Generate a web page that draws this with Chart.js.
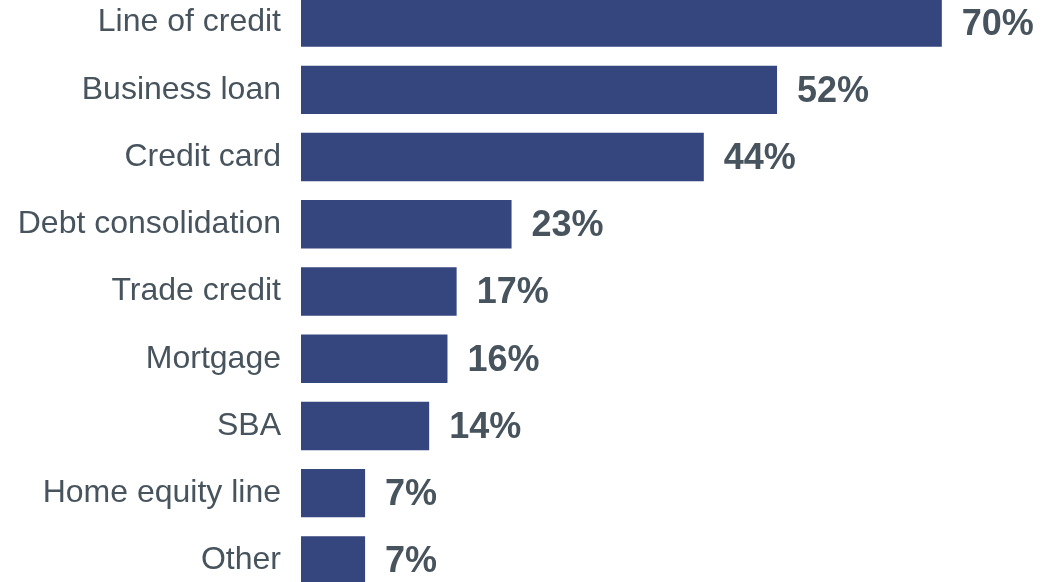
<!DOCTYPE html>
<html>
<head>
<meta charset="utf-8">
<script src="https://cdn.jsdelivr.net/npm/chart.js@4/dist/chart.umd.min.js"></script>
<style>
  html, body { margin: 0; padding: 0; background: #ffffff; overflow: hidden; }
  #wrap { position: relative; width: 1059px; height: 582px; overflow: hidden; }
  #chart { position: absolute; left: 0; top: -11px; }
</style>
</head>
<body>
<div id="wrap"><canvas id="chart" width="1059" height="605"></canvas></div>
<script>
// Financing products used (share of respondents, %)
const categories = [
  "Line of credit", "Business loan", "Credit card", "Debt consolidation",
  "Trade credit", "Mortgage", "SBA", "Home equity line", "Other"
];
const shares = [70, 52, 44, 23, 17, 16, 14, 7, 7];
const valueLabels = shares.map(v => v + "%");

const BAR_COLOR = "#35457e";
const TEXT_COLOR = "#47545d";
const FONT = "'Liberation Sans', Arial, sans-serif";

// Bold percentage written just past the end of each bar
const barValueLabels = {
  id: "barValueLabels",
  afterDatasetsDraw(chart) {
    const ctx = chart.ctx;
    const meta = chart.getDatasetMeta(0);
    ctx.save();
    ctx.font = "bold 36px " + FONT;
    ctx.fillStyle = TEXT_COLOR;
    ctx.textAlign = "left";
    ctx.textBaseline = "middle";
    meta.data.forEach((bar, i) => {
      ctx.fillText(valueLabels[i], bar.x + 20, bar.y + 2);
    });
    ctx.restore();
  }
};

new Chart(document.getElementById("chart"), {
  type: "bar",
  data: {
    labels: categories,
    datasets: [{
      data: shares,
      backgroundColor: BAR_COLOR,
      borderWidth: 0,
      barPercentage: 0.72,
      categoryPercentage: 1.0
    }]
  },
  options: {
    indexAxis: "y",
    responsive: false,
    animation: false,
    layout: { padding: 0 },
    plugins: {
      legend: { display: false },
      tooltip: { enabled: false }
    },
    scales: {
      x: {
        display: false,
        min: 0,
        max: 82.8
      },
      y: {
        // fixed label column; bars fill the full canvas height
        afterFit(scale) {
          scale.width = 301;
          scale.paddingTop = 0;
          scale.paddingBottom = 0;
        },
        grid: { display: false, drawTicks: false },
        border: { display: false },
        ticks: {
          padding: 20,
          color: TEXT_COLOR,
          font: { family: FONT, size: 32 }
        }
      }
    }
  },
  plugins: [barValueLabels]
});
</script>
</body>
</html>
